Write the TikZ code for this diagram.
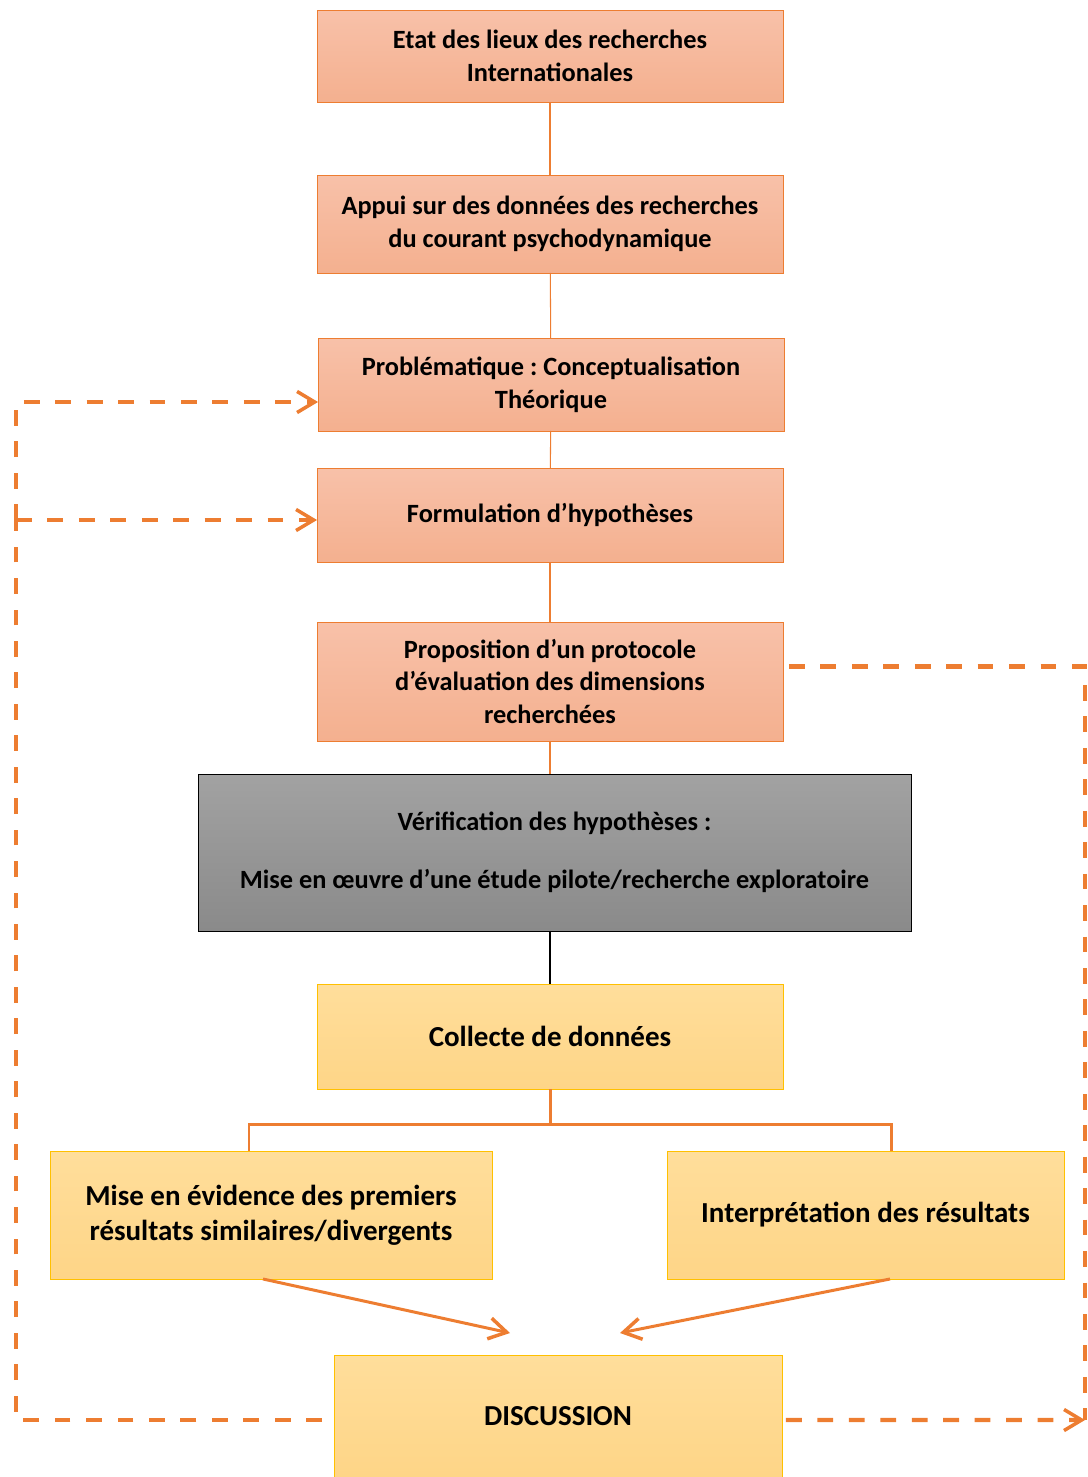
\documentclass[tikz,border=0pt]{standalone}
\usepackage{fontspec}
\setmainfont{Carlito}
\usetikzlibrary{positioning,arrows.meta}
\definecolor{orng}{HTML}{ED7D31}
\definecolor{salmtop}{HTML}{F8C1A9}
\definecolor{salmbot}{HTML}{F4B08F}
\definecolor{yeltop}{HTML}{FFDE9B}
\definecolor{yelbot}{HTML}{FED587}
\definecolor{gold}{HTML}{FFC000}
\definecolor{greytop}{HTML}{A2A2A2}
\definecolor{greybot}{HTML}{8A8A8A}
\frenchspacing

\begin{document}
\begin{tikzpicture}[x=0.02cm, y=-0.02cm, outer sep=0pt, inner sep=0pt,
box/.style ={draw=orng, top color=salmtop, bottom color=salmbot, align=center, minimum width=9.32cm, text=black, font=\fontsize{15}{18.7}\selectfont\bfseries},
ybox/.style={draw=gold, top color=yeltop, bottom color=yelbot, align=center, text=black, font=\fontsize{16.5}{20}\selectfont\bfseries},
gbox/.style={draw=black, top color=greytop, bottom color=greybot, align=center, text=black, font=\fontsize{15}{18.7}\selectfont\bfseries},
link/.style={draw=orng, line width=0.6pt},
branch/.style={draw=orng, line width=1.7pt},
dashline/.style={draw=orng, line width=2.3pt, dash pattern=on 9pt off 8.9pt},
tip/.style={-{Straight Barb[length=10pt, width=12pt, line width=2pt]}}]
\useasboundingbox (0,0) rectangle (1088,1477);
% main column
\node[box, minimum height=1.84cm] (etat) at (550,56) {Etat des lieux des recherches\\Internationales};
\node[box, minimum height=1.96cm] (appui) at (550,224) {Appui sur des données des recherches\\du courant psychodynamique};
\node[box, minimum height=1.86cm] (prob) at (551,384.5) {Problématique : Conceptualisation\\Théorique};
\node[box, minimum height=1.88cm] (form) at (550,515) {Formulation d’hypothèses};
\node[box, minimum height=2.38cm] (prop) at (550,681.5) {Proposition d’un protocole\\d’évaluation des dimensions\\recherchées};
\node[gbox, minimum width=14.26cm, minimum height=3.14cm] (verif) at (554.5,852.5) {Vérification des hypothèses :\\[14pt]Mise en œuvre d’une étude pilote/recherche exploratoire};
\node[ybox, minimum width=9.32cm, minimum height=2.1cm] (collecte) at (550,1036.5) {Collecte de données};
\node[ybox, minimum width=8.84cm, minimum height=2.56cm] (mise) at (271,1215) {Mise en évidence des premiers\\résultats similaires/divergents};
\node[ybox, minimum width=7.94cm, minimum height=2.56cm] (interp) at (865.5,1215) {Interprétation des résultats};
\node[ybox, minimum width=8.96cm, minimum height=2.44cm] (disc) at (558,1416) {DISCUSSION};
% links
\path[link, line width=1.2pt] (etat) edge (appui);
\path[link] (appui) edge (prob)
            (prob) edge (form)
            (form) edge (prop)
            (prop) edge (verif.north -| prop.south);
\draw[line width=0.6pt] (verif.south -| collecte.north) -- (collecte);
% branch
\coordinate (bl) at (249,1124);
\coordinate (brr) at (891,1124);
\draw[branch] (collecte.south) -- (collecte.south |- bl);
\draw[branch, line cap=rect] (bl) -- (brr);
\draw[branch] (bl) -- (bl |- mise.north);
\draw[branch] (brr) -- (brr |- interp.north);
% to discussion
\coordinate (pa) at (510,1333);
\coordinate (pb) at (620,1333);
\draw[branch, tip] ([xshift=-0.16cm]mise.south) -- (pa);
\draw[branch, tip] ([xshift=0.49cm]interp.south) -- (pb);
% feedback loops
\coordinate (lx) at (16,520);
\coordinate (rx) at (1085,1420);
\draw[dashline] ([yshift=-0.08cm, xshift=-0.24cm]disc.west) -| (lx);
\draw[dashline, tip] (lx) -- (form.west |- lx);
\draw[dashline, tip] (lx) |- ([yshift=-0.35cm]prob.west);
\draw[dashline] ([yshift=0.3cm, xshift=0.12cm]prop.east) -| (rx);
\draw[dashline, tip] ([yshift=-0.08cm, xshift=0.08cm]disc.east) -- (rx);
\end{tikzpicture}
\end{document}
